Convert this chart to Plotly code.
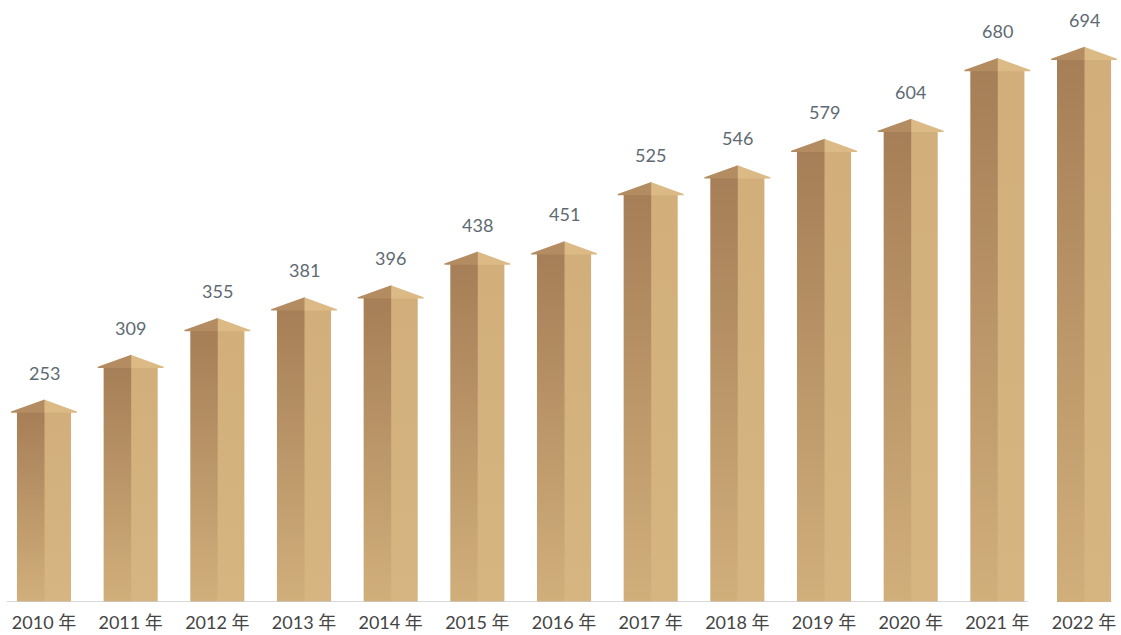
import plotly.graph_objects as go

# Annual values, 2010-2022
years = ["2010 年", "2011 年", "2012 年", "2013 年", "2014 年", "2015 年", "2016 年",
         "2017 年", "2018 年", "2019 年", "2020 年", "2021 年", "2022 年"]
values = [253, 309, 355, 381, 396, 438, 451, 525, 546, 579, 604, 680, 694]

# Geometry of each column (x in category units, y in data units)
BODY_HALF = 0.312
CAP_HALF = 0.38
CAP_H = 15
SEAM = 0.006  # small overlap so the two faces meet without a gap

LEFT_TOP, LEFT_BOT = "#A67E57", "#D1AF7B"
RIGHT_TOP, RIGHT_BOT = "#D2AF7A", "#D6B580"
CAP_LEFT, CAP_RIGHT = "#B48C62", "#DBBA86"
FONT = "Lato, Noto Sans CJK SC, sans-serif"

fig = go.Figure()

for i, v in enumerate(values):
    top = v - CAP_H
    # right (lit) face
    fig.add_trace(go.Scatter(
        x=[i, i + BODY_HALF, i + BODY_HALF, i, i],
        y=[0, 0, top, top, 0],
        mode="lines", line=dict(width=0), fill="toself",
        fillgradient=dict(type="vertical", colorscale=[[0, RIGHT_BOT], [1, RIGHT_TOP]]),
        hoverinfo="skip", showlegend=False))
    # left (shaded) face, drawn over the seam
    fig.add_trace(go.Scatter(
        x=[i - BODY_HALF, i + SEAM, i + SEAM, i - BODY_HALF, i - BODY_HALF],
        y=[0, 0, top, top, 0],
        mode="lines", line=dict(width=0), fill="toself",
        fillgradient=dict(type="vertical", colorscale=[[0, LEFT_BOT], [1, LEFT_TOP]]),
        hoverinfo="skip", showlegend=False))
    # roof cap, two halves
    fig.add_trace(go.Scatter(
        x=[i, i + CAP_HALF, i + CAP_HALF, i],
        y=[v, top, top - 1.5, top - 1.5],
        mode="lines", line=dict(width=0), fill="toself", fillcolor=CAP_RIGHT,
        hoverinfo="skip", showlegend=False))
    fig.add_trace(go.Scatter(
        x=[i - CAP_HALF, i + SEAM, i + SEAM, i - CAP_HALF],
        y=[top, v, top - 1.5, top - 1.5],
        mode="lines", line=dict(width=0), fill="toself", fillcolor=CAP_LEFT,
        hoverinfo="skip", showlegend=False))

# value labels above each column
for i, v in enumerate(values):
    fig.add_annotation(x=i, y=v, text=str(v), showarrow=False, yshift=27,
                       yanchor="middle", xanchor="center",
                       font=dict(family=FONT, size=18, color="#5E6A72"))

# baseline
fig.add_shape(type="line", xref="x", yref="y", x0=-0.427, x1=11.35, y0=0, y1=0,
              line=dict(color="#CBCBCB", width=1.5))

xmin = -44 / 86.67
xmax = xmin + 1121 / 86.67

fig.update_layout(
    width=1121, height=635,
    margin=dict(l=0, r=0, t=2, b=33),
    paper_bgcolor="white", plot_bgcolor="white",
    xaxis=dict(range=[xmin, xmax], tickvals=list(range(len(years))), ticktext=years,
               showgrid=False, zeroline=False, showline=False, ticks="",
               ticklabelstandoff=8,
               tickfont=dict(family=FONT, size=18, color="#444444")),
    yaxis=dict(range=[0, 750], visible=False, showgrid=False, zeroline=False),
)

fig.write_html("out.html")
